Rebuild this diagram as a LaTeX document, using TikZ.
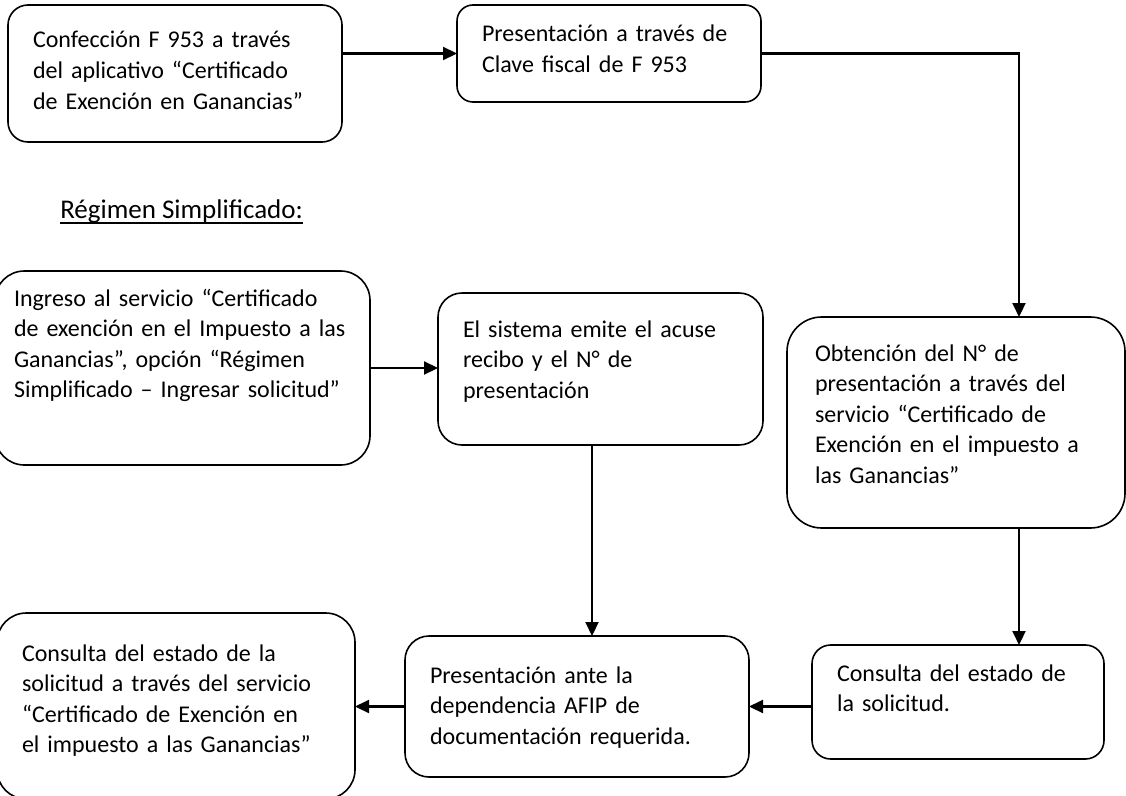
\documentclass[tikz,border=0pt]{standalone}
\usepackage{fontspec}
\setmainfont{Carlito}
\usetikzlibrary{arrows.meta, calc}

\tikzset{
  stepbox/.style={draw, line width=1.2pt, align=left, anchor=north west, outer sep=0pt,
    inner ysep=0pt, inner xsep=18.75pt, font=\fontsize{18}{22.9}\selectfont,
    execute at begin node={\rightskip=0pt plus 1fil minus 40pt}},
  flow/.style={-{Triangle[length=10.5pt,width=9.75pt]}, line width=1.6pt}
}

\begin{document}
\begin{tikzpicture}[x=0.75pt, y=-0.75pt]
\useasboundingbox (0,0) rectangle (1126,795);

\node[stepbox, rounded corners=15pt, text width=213pt, text height=32.25pt, text depth=70.5pt] (confeccion) at (8,5) {Confección F 953 a través\\del aplicativo “Certificado\\de Exención en Ganancias”};
\node[stepbox, rounded corners=12pt, text width=190.5pt, text height=27.75pt, text depth=45pt] (clave) at (457,5) {Presentación a través de\\Clave fiscal de F 953};
\node[anchor=base west, inner sep=0pt, font=\fontsize{20.25}{24}\selectfont] (titulo) at (60,218) {Régimen Simplificado:};
\node[stepbox, rounded corners=22pt, inner xsep=14.25pt, text width=252.75pt, text height=26.25pt, text depth=119.25pt] (ingreso) at (-5,271) {Ingreso al servicio “Certificado\\de exención en el Impuesto a las\\Ganancias”, opción “Régimen\\Simplificado – Ingresar solicitud”};
\node[stepbox, rounded corners=18pt, text width=206.25pt, text height=33pt, text depth=81pt] (acuse) at (438,293) {El sistema emite el acuse\\recibo y el N° de\\presentación};
\node[stepbox, rounded corners=26pt, inner xsep=21pt, text width=211.5pt, text height=33pt, text depth=125.25pt] (obtencion) at (787,317) {Obtención del N° de\\presentación a través del\\servicio “Certificado de\\Exención en el impuesto a\\las Ganancias”};
\node[stepbox, rounded corners=22pt, text width=231pt, text height=36pt, text depth=103.5pt] (consultaserv) at (-3,613) {Consulta del estado de la\\solicitud a través del servicio\\“Certificado de Exención en\\el impuesto a las Ganancias”};
\node[stepbox, rounded corners=18pt, text width=220.5pt, text height=35.25pt, text depth=70.5pt] (dependencia) at (405,636) {Presentación ante la\\dependencia AFIP de\\documentación requerida.};
\node[stepbox, rounded corners=14pt, text width=181.5pt, text height=27pt, text depth=58.5pt] (consulta) at (812,645) {Consulta del estado de\\la solicitud.};

\coordinate (colder) at (1019,0);
\coordinate (colmed) at (592,0);

\draw[line width=1.1pt] ([yshift=-3.8pt]titulo.base west) -- ([yshift=-3.8pt]titulo.base east);

\draw[flow] (confeccion.east |- clave.west) -- (clave.west);
\draw[flow] (clave.east) -| (obtencion.north -| colder);
\draw[flow] (ingreso.east) -- (ingreso.east -| acuse.west);
\draw[flow] (acuse.south -| colmed) -- (dependencia.north -| colmed);
\draw[flow] (obtencion.south -| colder) -- (consulta.north -| colder);
\draw[flow] (consulta.west |- dependencia.east) -- (dependencia.east);
\draw[flow] (dependencia.west) -- (dependencia.west -| consultaserv.east);
\end{tikzpicture}
\end{document}
